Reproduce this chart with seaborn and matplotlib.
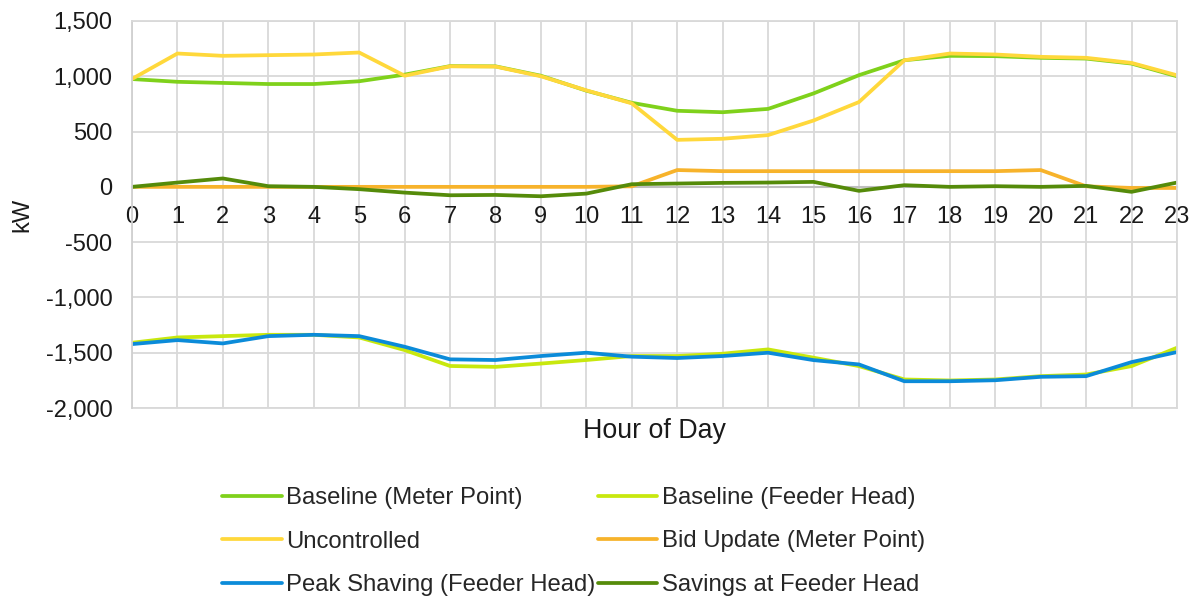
import matplotlib
matplotlib.use("Agg")
import matplotlib.pyplot as plt
import seaborn as sns
import pandas as pd

# Hourly load profiles (kW)
hours = list(range(24))

baseline_meter = [975, 950, 940, 930, 930, 955, 1015, 1092, 1090, 1005, 870, 760,
                  688, 675, 705, 845, 1010, 1145, 1185, 1182, 1167, 1160, 1115, 1000]
baseline_feeder = [-1410, -1362, -1350, -1338, -1338, -1362, -1476, -1620, -1628, -1598, -1566, -1530,
                   -1530, -1509, -1470, -1545, -1621, -1742, -1751, -1742, -1712, -1697, -1621, -1455]
uncontrolled = [976, 1206, 1185, 1191, 1197, 1215, 1005, 1090, 1088, 1000, 873, 755,
                425, 435, 468, 600, 767, 1145, 1206, 1197, 1176, 1167, 1121, 1009]
bid_update = [0, 0, 0, 0, 0, 0, 0, 0, 0, 0, 0, 5,
              152, 142, 142, 142, 142, 142, 142, 142, 152, 5, -10, -10]
peak_shaving = [-1422, -1386, -1416, -1350, -1338, -1350, -1446, -1560, -1566, -1530, -1500, -1536,
                -1548, -1530, -1500, -1567, -1606, -1758, -1758, -1749, -1718, -1712, -1585, -1494]
savings = [0, 39, 76, 6, 0, -21, -52, -76, -73, -85, -61, 24,
           30, 36, 39, 45, -36, 15, 0, 6, 0, 9, -45, 39]

series_names = ["Baseline (Meter Point)", "Baseline (Feeder Head)", "Uncontrolled",
                "Bid Update (Meter Point)", "Peak Shaving (Feeder Head)", "Savings at Feeder Head"]
series_values = [baseline_meter, baseline_feeder, uncontrolled, bid_update, peak_shaving, savings]
series_colors = ["#7FD11B", "#C8E80E", "#FFD83B", "#F7B32B", "#0B8BD9", "#558B0A"]

y_ticks = [1500, 1000, 500, 0, -500, -1000, -1500, -2000]

sns.set_theme(style="white")
plt.rcParams["font.family"] = ["Liberation Sans", "DejaVu Sans"]
plt.rcParams["axes.unicode_minus"] = False

fig = plt.figure(figsize=(11.98, 5.96), dpi=100)
ax = fig.add_axes([132 / 1198, 1 - 408 / 596, 1045 / 1198, 387 / 596])

df = pd.DataFrame({
    "hour": hours * len(series_names),
    "kW": [v for vals in series_values for v in vals],
    "series": [n for n in series_names for _ in hours],
})

sns.lineplot(data=df, x="hour", y="kW", hue="series", hue_order=series_names,
             palette=dict(zip(series_names, series_colors)), linewidth=2.7,
             ax=ax, legend=False, sort=False)

ax.set_xlim(0, 23)
ax.set_ylim(-2000, 1500)
ax.set_xticks(hours)
ax.set_xticklabels([str(h) for h in hours])
ax.set_yticks(y_ticks)
ax.set_yticklabels([f"{v:,}" for v in y_ticks])

ax.grid(True, color="#D9D9D9", linewidth=1.3)
ax.set_axisbelow(True)
for side in ["top", "right"]:
    ax.spines[side].set_visible(True)
    ax.spines[side].set_color("#D9D9D9")
    ax.spines[side].set_linewidth(1.3)
ax.spines["left"].set_color("#D0D0D0")
ax.spines["left"].set_linewidth(1.3)
ax.spines["bottom"].set_position(("data", 0))
ax.spines["bottom"].set_color("#BFBFBF")
ax.spines["bottom"].set_linewidth(1.5)
ax.spines["bottom"].set_zorder(1)
ax.axhline(-2000, color="#D9D9D9", linewidth=1.3, zorder=0.5, clip_on=False)

ax.tick_params(axis="x", length=0, pad=14, labelsize=17, colors="#1a1a1a")
ax.tick_params(axis="y", length=0, pad=14, labelsize=17, colors="#1a1a1a")
ax.set_xlabel("")
ax.set_ylabel("")

ax.text(-110 / 1045, 0.5, "kW", rotation=90, transform=ax.transAxes,
        ha="center", va="center", fontsize=17, color="#1a1a1a")
ax.text(0.5, -23 / 387, "Hour of Day", transform=ax.transAxes,
        ha="center", va="center", fontsize=19.3, color="#1a1a1a")

# Legend laid out row by row in two columns
lines = ax.get_lines()[:len(series_names)]
order = [0, 2, 4, 1, 3, 5]
fig.legend([lines[i] for i in order], [series_names[i] for i in order],
           ncol=2, loc="upper left", bbox_to_anchor=(222 / 1198, 1 - 487 / 596),
           frameon=False, fontsize=17.2, handlelength=2.5, handletextpad=0.18,
           columnspacing=0.1, labelspacing=0.9, borderpad=0, borderaxespad=0)

fig.savefig("out.png", dpi=100)
